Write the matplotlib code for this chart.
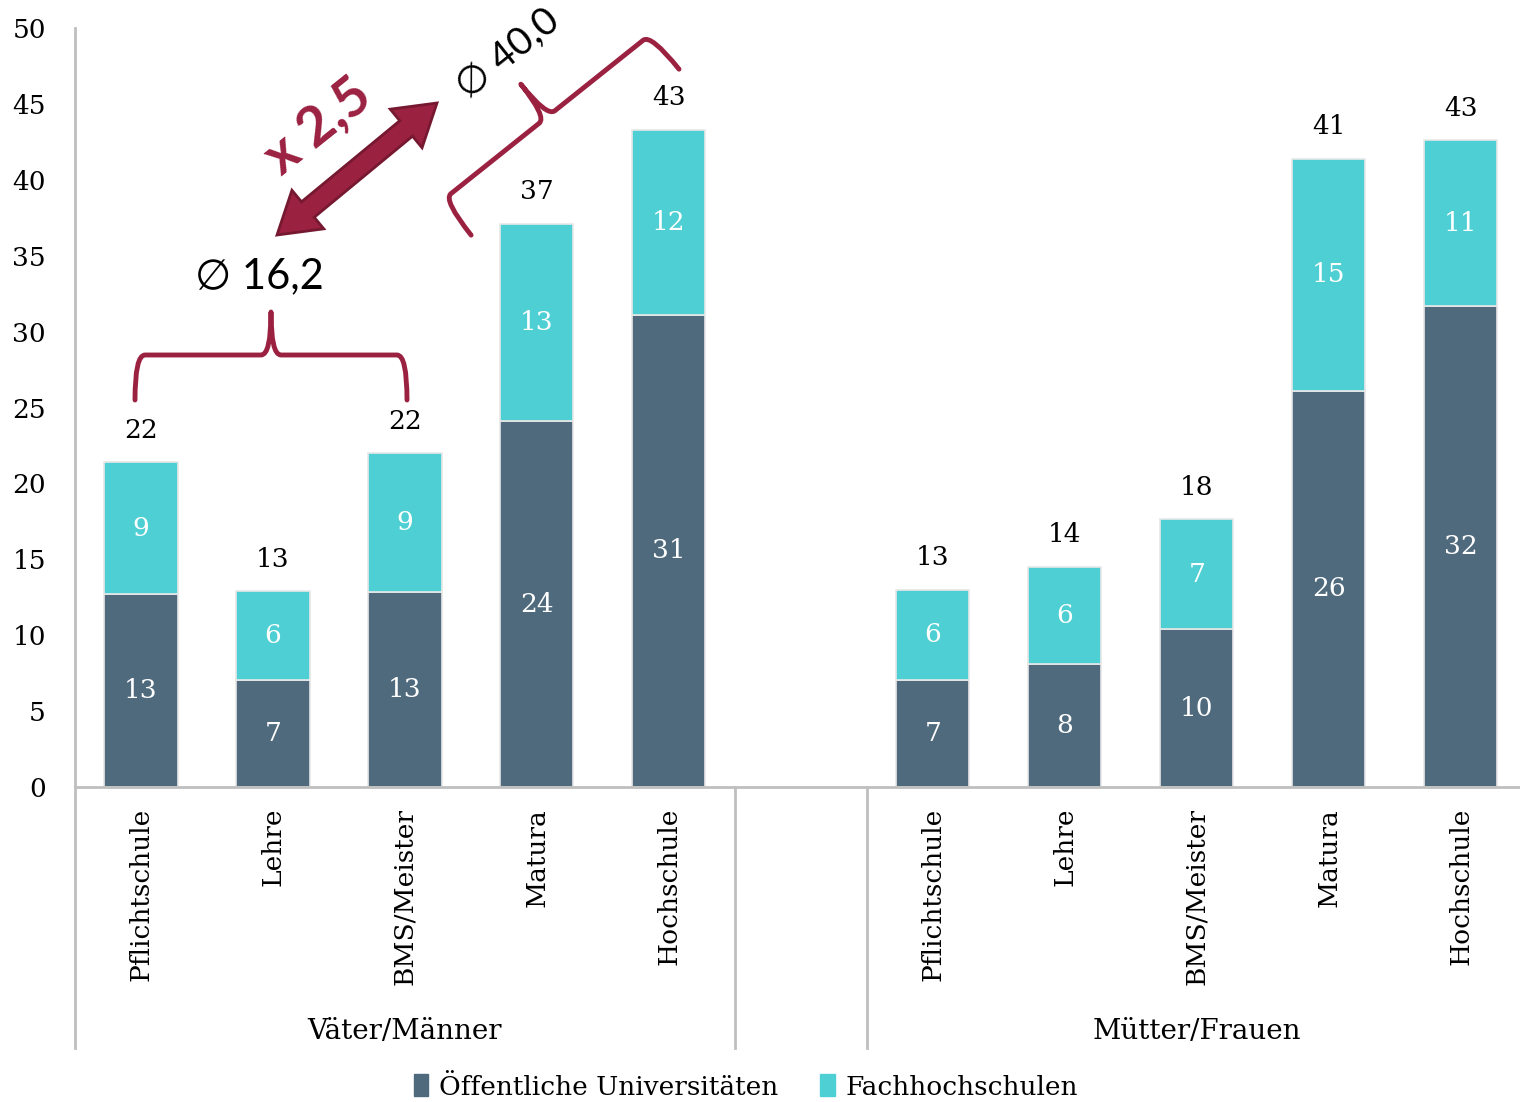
import numpy as np
import matplotlib
matplotlib.use("Agg")
import matplotlib.pyplot as plt
from matplotlib.path import Path
from matplotlib.patches import PathPatch, Polygon, Patch

categories = ["Pflichtschule", "Lehre", "BMS/Meister", "Matura", "Hochschule"]
groups = ["Väter/Männer", "Mütter/Frauen"]

vaeter_uni = [12.7, 7.05, 12.85, 24.1, 31.1]
vaeter_fh = [8.7, 5.85, 9.15, 13.0, 12.2]
vaeter_total_labels = ["22", "13", "22", "37", "43"]

muetter_uni = [7.05, 8.1, 10.4, 26.1, 31.7]
muetter_fh = [5.95, 6.4, 7.25, 15.3, 10.9]
muetter_total_labels = ["13", "14", "18", "41", "43"]

series_names = ["Öffentliche Universitäten", "Fachhochschulen"]
avg_low = "∅ 16,2"
avg_high = "∅ 40,0"
factor = "x 2,5"

DARK = "#4F6A7D"
CYAN = "#4ECFD3"
RED = "#9B2141"
GREY = "#BFBFBF"
SERIF = "DejaVu Serif"

plt.rcParams["font.family"] = SERIF

fig = plt.figure(figsize=(15.2, 11.02), dpi=100)
ax = fig.add_axes([75 / 1520, 315 / 1102, 1 - 75 / 1520, 759 / 1102])

x_v = np.arange(5)
x_m = np.arange(5) + 6
xs = np.concatenate([x_v, x_m])
uni = np.array(vaeter_uni + muetter_uni)
fh = np.array(vaeter_fh + muetter_fh)
totals = vaeter_total_labels + muetter_total_labels

w = 0.555
b1 = ax.bar(xs, uni, w, color=DARK, edgecolor="#E8E8E8", linewidth=1.2)
b2 = ax.bar(xs, fh, w, bottom=uni, color=CYAN, edgecolor="#E8E8E8", linewidth=1.2)
ax.bar_label(b1, labels=[f"{v:.0f}" for v in uni], label_type="center",
             color="white", fontsize=19)
ax.bar_label(b2, labels=[f"{v:.0f}" for v in fh], label_type="center",
             color="white", fontsize=19)
ax.bar_label(b2, labels=totals, padding=14, color="black", fontsize=19)

ax.set_xlim(-0.5, 10.45)
ax.set_ylim(0, 50)
ax.set_yticks(np.arange(0, 51, 5))
ax.tick_params(axis="y", length=0, pad=21, labelsize=19)
ax.set_xticks(xs)
ax.set_xticklabels(categories * 2, rotation=90, fontsize=19)
ax.tick_params(axis="x", length=0, pad=15)
for t in ax.get_yticklabels():
    t.set_horizontalalignment("right")

for s in ["top", "right"]:
    ax.spines[s].set_visible(False)
ax.spines["left"].set_color(GREY)
ax.spines["bottom"].set_color(GREY)
ax.spines["left"].set_linewidth(2)
ax.spines["bottom"].set_linewidth(2)

# group separators below the axis
trans = ax.get_xaxis_transform()
for xv in [-0.5, 4.5, 5.5]:
    ax.plot([xv, xv], [0, -0.344], transform=trans, color=GREY, lw=2, clip_on=False)
ax.text(2, -0.322, groups[0], transform=trans, ha="center", va="center", fontsize=20)
ax.text(8, -0.322, groups[1], transform=trans, ha="center", va="center", fontsize=20)

handles = [Patch(color=DARK), Patch(color=CYAN)]
fig.legend(handles, series_names, loc="center", bbox_to_anchor=(746 / 1520, 15 / 1102),
           ncol=2, frameon=False, fontsize=19, handlelength=0.55, handleheight=0.9,
           handletextpad=0.4, columnspacing=1.6)

# annotation overlay in pixel coordinates
ov = fig.add_axes([0, 0, 1, 1])
ov.set_xlim(0, 1520)
ov.set_ylim(1102, 0)
ov.axis("off")


def brace(cx, cy, angle, half, depth, spike):
    a = np.deg2rad(angle)
    u = np.array([np.cos(a), -np.sin(a)])
    n = np.array([np.sin(a), np.cos(a)])
    r = 10
    local = [(-half, depth), (-half, 0), (-half + r, 0), (-r, 0), (0, 0), (0, -spike),
             (0, 0), (r, 0), (half - r, 0), (half, 0), (half, depth)]
    codes = [Path.MOVETO, Path.CURVE3, Path.CURVE3, Path.LINETO, Path.CURVE3, Path.CURVE3,
             Path.CURVE3, Path.CURVE3, Path.LINETO, Path.CURVE3, Path.CURVE3]
    pts = [np.array([cx, cy]) + s * u + t * n for s, t in local]
    ov.add_patch(PathPatch(Path(pts, codes), fill=False, edgecolor=RED, lw=3.5,
                           capstyle="round", joinstyle="round"))


brace(271, 355, 0, 136, 45, 43)
brace(547, 117, 38.6, 133, 45, 42)


def double_arrow(p0, p1, shaft, head_w, head_l):
    p0 = np.array(p0, float)
    p1 = np.array(p1, float)
    d = p1 - p0
    L = np.hypot(*d)
    u = d / L
    n = np.array([-u[1], u[0]])
    local = [(0, 0), (head_l, head_w / 2), (head_l, shaft / 2), (L - head_l, shaft / 2),
             (L - head_l, head_w / 2), (L, 0), (L - head_l, -head_w / 2),
             (L - head_l, -shaft / 2), (head_l, -shaft / 2), (head_l, -head_w / 2)]
    pts = [p0 + s * u + t * n for s, t in local]
    ov.add_patch(Polygon(pts, closed=True, facecolor=RED, edgecolor="#751830", lw=2))


double_arrow((277, 235), (437, 103), 20, 50, 40)

ov.text(259, 276, avg_low, fontsize=30, ha="center", va="center",
        family=["Lato", "DejaVu Sans"])
ov.text(508, 54, avg_high, fontsize=28, ha="center", va="center", rotation=38.6,
        family=["Lato", "DejaVu Sans"])
ov.text(318, 126, factor, fontsize=40, ha="center", va="center", rotation=38.6,
        color=RED, fontweight="bold", family=["Lato", "DejaVu Sans"])

fig.savefig("out.png", dpi=100)
